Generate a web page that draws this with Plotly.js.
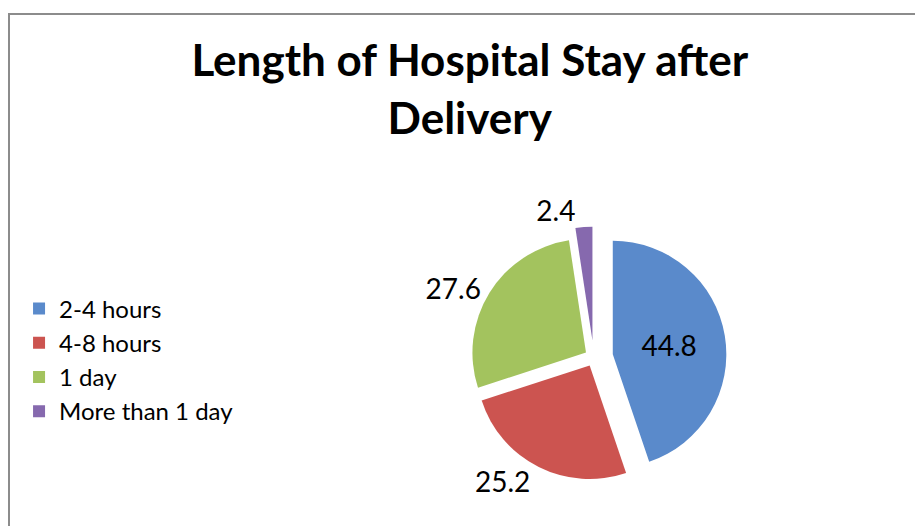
<!DOCTYPE html>
<html>
<head>
<meta charset="utf-8">
<script src="https://cdn.plot.ly/plotly-3.0.1.min.js"></script>
<style>
  html, body { margin: 0; padding: 0; background: #ffffff; overflow: hidden; }
  #frame { position: absolute; left: 8px; top: 13px; width: 910px; height: 520px;
           border-top: 2px solid #8c8c8c; border-left: 2px solid #8c8c8c; }
  #chart { position: absolute; left: 0; top: 0; width: 905px; height: 511px; }
</style>
</head>
<body>
<div id="frame"><div id="chart"></div></div>
<script>
const categories = ["2-4 hours", "4-8 hours", "1 day", "More than 1 day"];
const values = [44.8, 25.2, 27.6, 2.4];
const sliceColors = ["#5A8ACB", "#CC5450", "#A3C35E", "#8669AE"];
const titleText = "Length of Hospital Stay after<br>Delivery";

const trace = {
  type: "pie",
  labels: categories,
  values: values,
  sort: false,
  direction: "clockwise",
  rotation: 0,
  pull: [0.17, 0.08, 0.08, 0.15],
  marker: { colors: sliceColors, line: { color: "#ffffff", width: 0 } },
  textinfo: "value",
  texttemplate: "%{value}",
  textposition: ["inside", "outside", "outside", "outside"],
  insidetextfont: { family: "Lato, 'Open Sans', sans-serif", size: 28, color: "#000000" },
  outsidetextfont: { family: "Lato, 'Open Sans', sans-serif", size: 28, color: "#000000" },
  domain: { x: [0.49, 0.80], y: [0.07, 0.59] },
  hoverinfo: "label+value",
  showlegend: true
};

const layout = {
  width: 905,
  height: 511,
  margin: { l: 0, r: 0, t: 0, b: 0 },
  paper_bgcolor: "#ffffff",
  title: {
    text: titleText,
    font: { family: "Lato, 'Open Sans', sans-serif", size: 44, color: "#000000", weight: "bold" },
    x: 0.508, xanchor: "center",
    y: 0.88, yanchor: "top"
  },
  legend: {
    x: 0.01, xanchor: "left",
    y: 0.325, yanchor: "middle",
    font: { family: "Lato, 'Open Sans', sans-serif", size: 24, color: "#000000" },
    bgcolor: "rgba(0,0,0,0)",
    traceorder: "normal"
  },
  showlegend: true
};

Plotly.newPlot("chart", [trace], layout, { displayModeBar: false, staticPlot: true });
</script>
</body>
</html>
